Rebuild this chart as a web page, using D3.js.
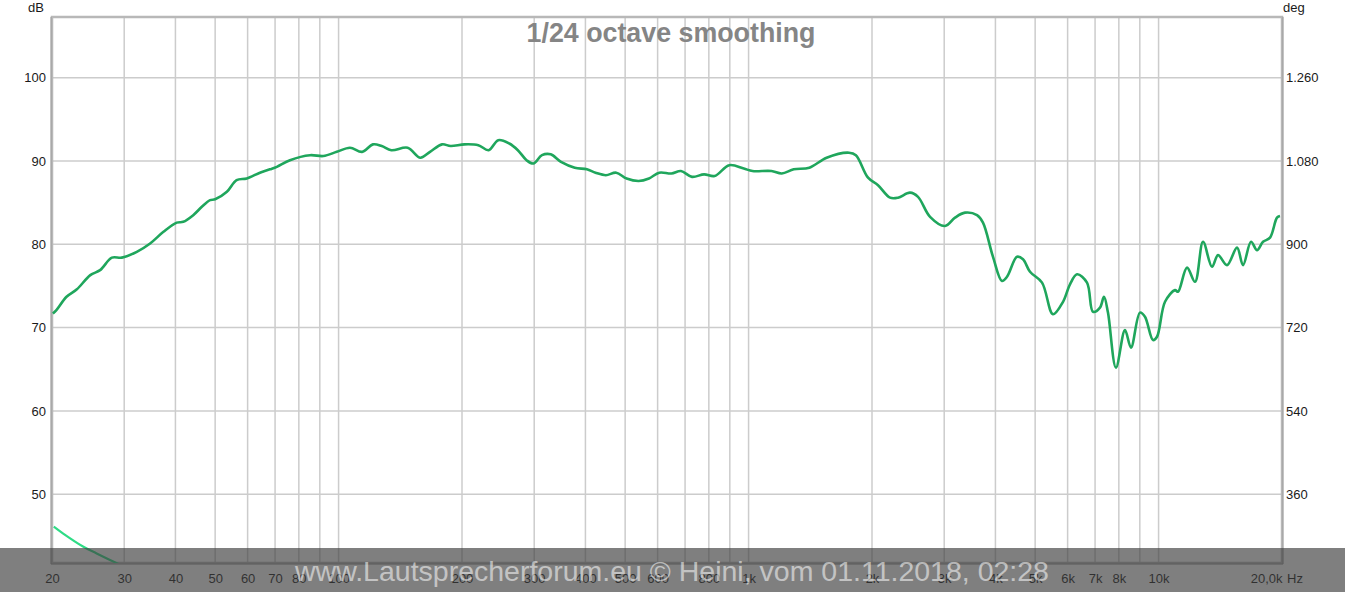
<!DOCTYPE html>
<html>
<head>
<meta charset="utf-8">
<script src="https://cdn.jsdelivr.net/npm/d3@7"></script>
<style>
  body { margin: 0; background: #fff; overflow: hidden; }
  text { font-family: "Liberation Sans", Arial, sans-serif; }
</style>
</head>
<body>
<div class="board"></div>
<script>
const freqs = [20.1, 20.5, 21.7, 23.0, 24.8, 26.2, 28.0, 29.6, 32.2, 34.7,
    37.4, 40.3, 41.8, 44.2, 46.4, 48.6, 50.0, 53.4, 56.4, 59.7,
    64.3, 68.0, 70.7, 76.1, 85.2, 91.8, 99.0, 106.6, 114.1, 121.3,
    127.4, 134.5, 147.4, 158.3, 167.1, 178.8, 187.7, 202.8, 219.2, 232.2,
    245.2, 260.8, 273.7, 287.4, 298.6, 313.4, 329.1, 348.7, 376.8, 403.3,
    423.3, 448.7, 475.5, 504.1, 539.3, 571.6, 605.6, 648.3, 684.1, 727.7,
    779, 825.9, 897.4, 973.7, 1022, 1137, 1205, 1289, 1407, 1550,
    1758, 1827, 1956, 2069, 2213, 2315, 2476, 2590, 2771, 3014,
    3188, 3372, 3607, 3730, 3946, 4150, 4269, 4516, 4670, 4858,
    5197, 5527, 5847, 6081, 6325, 6690, 6919, 7196, 7359, 7526,
    7872, 8281, 8564, 9008, 9264, 9692, 9912, 10368, 10966, 11154,
    11732, 12272, 12836, 13500, 13964, 14687, 15536, 16068, 16806, 17383,
    17979, 18698, 19445, 19776]

const spl = [71.7, 72.1, 73.7, 74.6, 76.3, 76.9, 78.4, 78.4, 79.1, 80.1,
    81.5, 82.6, 82.7, 83.5, 84.5, 85.3, 85.4, 86.3, 87.7, 87.9,
    88.6, 89.0, 89.3, 90.1, 90.7, 90.6, 91.1, 91.6, 91.1, 92.0,
    91.8, 91.3, 91.6, 90.4, 91.1, 92.0, 91.8, 92.0, 91.9, 91.3,
    92.5, 92.1, 91.3, 90.1, 89.7, 90.7, 90.8, 89.9, 89.2, 89.0,
    88.6, 88.3, 88.6, 87.9, 87.6, 87.9, 88.6, 88.5, 88.8, 88.1,
    88.4, 88.2, 89.5, 89.1, 88.8, 88.8, 88.5, 89.0, 89.2, 90.4,
    91.0, 90.7, 88.0, 87.1, 85.6, 85.6, 86.2, 85.7, 83.3, 82.2,
    83.2, 83.8, 83.5, 82.6, 78.5, 75.6, 76.1, 78.5, 78.2, 76.7,
    75.4, 71.6, 73.1, 75.2, 76.4, 75.4, 71.9, 72.4, 73.7, 71.8,
    65.2, 69.7, 67.6, 71.8, 71.3, 68.5, 68.9, 73.1, 74.5, 74.3,
    77.2, 75.5, 80.3, 77.3, 78.7, 77.5, 79.6, 77.5, 80.3, 79.3,
    80.3, 80.8, 83.2, 83.4]

// phase trace, only visible at the very low end
const phaseFreqs = [20.2, 21.3, 23.8, 25.7, 28.8, 30.5]
const phaseDeg = [290, 275, 247, 232, 211, 202]

const gridFreqs = [20, 30, 40, 50, 60, 70, 80, 90, 100, 200, 300, 400, 500, 600, 700, 800, 900,
    1000, 2000, 3000, 4000, 5000, 6000, 7000, 8000, 9000, 10000, 20000]
const labelFreqs = [20, 30, 40, 50, 60, 70, 80, 100, 200, 300, 400, 500, 600, 800,
    1000, 2000, 3000, 4000, 5000, 6000, 7000, 8000, 10000, 20000]
const labelText = ["20", "30", "40", "50", "60", "70", "80", "100", "200", "300", "400", "500", "600", "800",
    "1k", "2k", "3k", "4k", "5k", "6k", "7k", "8k", "10k", "20,0k"]
const dbTicks = [50, 60, 70, 80, 90, 100]
const degTicks = [360, 540, 720, 900, 1080, 1260]

const title = "1/24 octave smoothing"
const watermark = "www.Lautsprecherforum.eu \u00a9 Heini, vom 01.11.2018, 02:28"

var W = 1345, H = 592
var plot = { left: 52, right: 1282, top: 17, bottom: 563 }
var dbMin = 41.74, dbMax = 107.29

var svg = d3.select(".board")
    .append("svg")
    .attr("width", W)
    .attr("height", H)

let xScale = d3.scaleLog()
    .domain([20, 20000])
    .range([plot.left, plot.right])

let yScale = d3.scaleLinear()
    .domain([dbMin, dbMax])
    .range([plot.bottom, plot.top])

// right axis: 18 deg per dB, 360 deg sits on 50 dB
let degScale = d3.scaleLinear()
    .domain([(dbMin - 30) * 18, (dbMax - 30) * 18])
    .range([plot.bottom, plot.top])

svg.append("defs").append("clipPath")
    .attr("id", "clip")
    .append("rect")
    .attr("x", plot.left)
    .attr("y", plot.top)
    .attr("width", plot.right - plot.left)
    .attr("height", plot.bottom - plot.top)

// grid
svg.append("g")
    .selectAll("line")
    .data(gridFreqs)
    .enter()
    .append("line")
    .attr("x1", d => xScale(d))
    .attr("x2", d => xScale(d))
    .attr("y1", plot.top)
    .attr("y2", plot.bottom)
    .attr("stroke", "#cccccc")
    .attr("stroke-width", 1.5)

svg.append("g")
    .selectAll("line")
    .data(dbTicks)
    .enter()
    .append("line")
    .attr("x1", plot.left)
    .attr("x2", plot.right)
    .attr("y1", d => yScale(d))
    .attr("y2", d => yScale(d))
    .attr("stroke", "#cccccc")
    .attr("stroke-width", 1.5)

// frame
svg.append("rect")
    .attr("x", plot.left)
    .attr("y", plot.top)
    .attr("width", plot.right - plot.left)
    .attr("height", plot.bottom - plot.top)
    .attr("fill", "none")
    .attr("stroke", "#b8b8b8")
    .attr("stroke-width", 2.5)

svg.append("path")
    .attr("d", `M${plot.left - 1},${plot.top} V${plot.bottom + 1} H${plot.right + 1} V${plot.top}`)
    .attr("fill", "none")
    .attr("stroke", "#9a9a9a")
    .attr("stroke-width", 1)

svg.append("text")
    .attr("x", 671)
    .attr("y", 42)
    .attr("text-anchor", "middle")
    .attr("font-size", 26.8)
    .attr("font-weight", "bold")
    .attr("fill", "#858585")
    .text(title)

// curves
svg.append("path")
    .datum(phaseFreqs.map((f, i) => [f, phaseDeg[i]]))
    .attr("clip-path", "url(#clip)")
    .attr("fill", "none")
    .attr("stroke", "#2fdc86")
    .attr("stroke-width", 2.2)
    .attr("d", d3.line()
        .curve(d3.curveCatmullRom)
        .x(d => xScale(d[0]))
        .y(d => degScale(d[1])))

svg.append("path")
    .datum(freqs.map((f, i) => [f, spl[i]]))
    .attr("clip-path", "url(#clip)")
    .attr("fill", "none")
    .attr("stroke", "#1fa65c")
    .attr("stroke-width", 2.6)
    .attr("stroke-linejoin", "round")
    .attr("d", d3.line()
        .curve(d3.curveCatmullRom)
        .x(d => xScale(d[0]))
        .y(d => yScale(d[1])))

// axes (drawn by d3, domain/ticks hidden, only labels kept)
var fmtDeg = d3.formatLocale({ decimal: ",", thousands: ".", grouping: [3], currency: ["", ""] }).format(",")

svg.append("g")
    .attr("transform", `translate(${plot.left - 6},0)`)
    .call(d3.axisLeft(yScale).tickValues(dbTicks).tickSize(0).tickPadding(0))
    .call(g => g.select(".domain").remove())
    .selectAll("text")
    .attr("font-size", 13)
    .attr("font-family", "Liberation Sans, Arial, sans-serif")
    .attr("fill", "#1a1a1a")

svg.append("g")
    .attr("transform", `translate(${plot.right + 4},0)`)
    .call(d3.axisRight(degScale).tickValues(degTicks).tickFormat(fmtDeg).tickSize(0).tickPadding(0))
    .call(g => g.select(".domain").remove())
    .selectAll("text")
    .attr("font-size", 13)
    .attr("font-family", "Liberation Sans, Arial, sans-serif")
    .attr("fill", "#1a1a1a")

var xAxis = svg.append("g")
    .attr("transform", `translate(0,${plot.bottom + 11})`)
    .call(d3.axisBottom(xScale).tickValues(labelFreqs)
        .tickFormat((d, i) => labelText[i]).tickSize(0).tickPadding(0))
    .call(g => g.select(".domain").remove())

xAxis.selectAll("text")
    .attr("font-size", 13)
    .attr("font-family", "Liberation Sans, Arial, sans-serif")
    .attr("fill", "#1a1a1a")
    .attr("text-anchor", d => d == 20000 ? "end" : "middle")

svg.append("text")
    .attr("x", plot.right + 5)
    .attr("y", plot.bottom + 20)
    .attr("font-size", 13)
    .attr("fill", "#1a1a1a")
    .text("Hz")

svg.append("text")
    .attr("x", 44)
    .attr("y", 12)
    .attr("text-anchor", "end")
    .attr("font-size", 13)
    .attr("fill", "#1a1a1a")
    .text("dB")

svg.append("text")
    .attr("x", 1283)
    .attr("y", 12)
    .attr("font-size", 13)
    .attr("fill", "#1a1a1a")
    .text("deg")

// watermark band over the bottom
svg.append("rect")
    .attr("x", 0)
    .attr("y", 548)
    .attr("width", W)
    .attr("height", H - 548)
    .attr("fill", "rgba(60,60,60,0.66)")

svg.append("text")
    .attr("x", 672)
    .attr("y", 581)
    .attr("text-anchor", "middle")
    .attr("font-size", 28.5)
    .attr("fill", "rgba(255,255,255,0.55)")
    .text(watermark)
</script>
</body>
</html>
